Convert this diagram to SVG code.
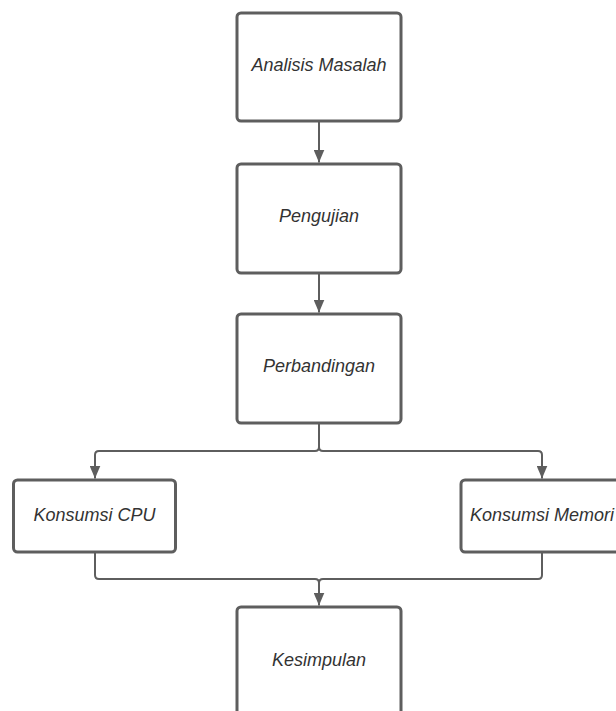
<svg xmlns="http://www.w3.org/2000/svg" width="616" height="711" viewBox="0 0 616 711">
  <style>
    .box { fill: #ffffff; stroke: #5e5e5e; stroke-width: 3; }
    .lbl { font-family: "Liberation Sans", Arial, sans-serif; font-style: italic; font-size: 18px; fill: #333333; text-anchor: middle; }
    .edge { fill: none; stroke: #5e5e5e; stroke-width: 2; }
  </style>
  <defs>
    <marker id="arr" viewBox="0 0 13 11" refX="13" refY="5.5" markerWidth="13" markerHeight="11" markerUnits="userSpaceOnUse" orient="auto">
      <path d="M0 0 L13 5.5 L0 11 Z" fill="#5e5e5e"/>
    </marker>
  </defs>
  <rect width="616" height="711" fill="#ffffff"/>
  <g id="connectors">
    <path class="edge" d="M319 121 L319 162.5" marker-end="url(#arr)"/>
    <path class="edge" d="M319 273 L319 312.5" marker-end="url(#arr)"/>
    <path class="edge" d="M319 423 L319 447 Q319 451 315 451 L99 451 Q95 451 95 455 L95 478.5" marker-end="url(#arr)"/>
    <path class="edge" d="M319 423 L319 447 Q319 451 323 451 L538 451 Q542 451 542 455 L542 478.5" marker-end="url(#arr)"/>
    <path class="edge" d="M95 552 L95 575 Q95 579 99 579 L315 579 Q319 579 319 583 L319 605.5" marker-end="url(#arr)"/>
    <path class="edge" d="M542 552 L542 575 Q542 579 538 579 L323 579 Q319 579 319 583"/>
  </g>
  <g id="analisis">
    <rect class="box" x="237" y="13" width="164" height="108" rx="4"/>
    <text class="lbl" x="319" y="70.5">Analisis Masalah</text>
  </g>
  <g id="pengujian">
    <rect class="box" x="237" y="164" width="164" height="109" rx="4"/>
    <text class="lbl" x="319" y="222">Pengujian</text>
  </g>
  <g id="perbandingan">
    <rect class="box" x="237" y="314" width="164" height="109" rx="4"/>
    <text class="lbl" x="319" y="372">Perbandingan</text>
  </g>
  <g id="cpu">
    <rect class="box" x="13.5" y="480" width="162" height="72" rx="4"/>
    <text class="lbl" x="94.5" y="520.5">Konsumsi CPU</text>
  </g>
  <g id="memori">
    <rect class="box" x="461" y="480" width="162" height="72" rx="4"/>
    <text class="lbl" x="542" y="520.5">Konsumsi Memori</text>
  </g>
  <g id="kesimpulan">
    <rect class="box" x="237" y="607" width="164" height="120" rx="4"/>
    <text class="lbl" x="319" y="665.5">Kesimpulan</text>
  </g>
</svg>
